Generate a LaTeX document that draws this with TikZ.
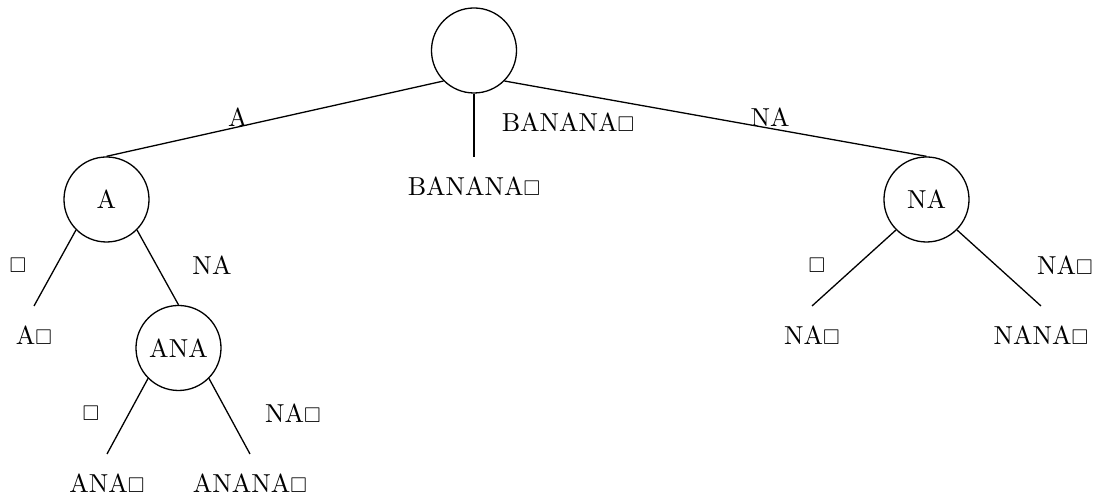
\documentclass[tikz,border=0pt]{standalone}
\usepackage{amssymb}
\newcommand{\sqb}{{\fontsize{8.2}{9}\selectfont$\square$}}
\begin{document}
\begin{tikzpicture}[x=0.3846pt,y=-0.3846pt,line width=0.5pt,
  inode/.style={draw,circle,minimum size=32.7pt,inner sep=0pt},
  leaf/.style={anchor=north,inner xsep=2pt,inner ysep=7.3pt},
  elabel/.style={inner sep=0pt}]
\useasboundingbox (0,0) rectangle (1103,495);
% internal nodes
\node[inode] (root) at (474,50.5) {};
\node[inode] (A) at (106.5,199.5) {A};
\node[inode] (ANA) at (178.5,348) {ANA};
\node[inode] (NA) at (926.5,199.5) {NA};
% leaves
\node[leaf] (lA) at (34,306) {A\sqb};
\node[leaf] (lANA) at (107,454) {ANA\sqb};
\node[leaf] (lANANA) at (250,454) {ANANA\sqb};
\node[leaf] (lBAN) at (474,157) {BANANA\sqb};
\node[leaf] (lNA) at (812,306) {NA\sqb};
\node[leaf] (lNANA) at (1041,306) {NANA\sqb};
% edges
\draw (root.south west) -- (A.north);
\draw (root.south) -- (lBAN.north);
\draw (root.south east) -- (NA.north);
\draw (A.south west) -- (lA.north);
\draw (A.south east) -- (ANA.north);
\draw (ANA.south west) -- (lANA.north);
\draw (ANA.south east) -- (lANANA.north);
\draw (NA.south west) -- (lNA.north);
\draw (NA.south east) -- (lNANA.north);
% edge labels
\node[elabel] (eA) at (238,117) {A};
\node[elabel] (eBAN) at (568,122) {BANANA\sqb};
\node[elabel] (eNA) at (770,117) {NA};
\node[elabel] (eAs) at (18,265) {\sqb};
\node[elabel] (eANA) at (212,265) {NA};
\node[elabel] (eANAs) at (91,413) {\sqb};
\node[elabel] (eANANA) at (293,413) {NA\sqb};
\node[elabel] (eNAs) at (817,265) {\sqb};
\node[elabel] (eNANA) at (1065,265) {NA\sqb};
\end{tikzpicture}
\end{document}
